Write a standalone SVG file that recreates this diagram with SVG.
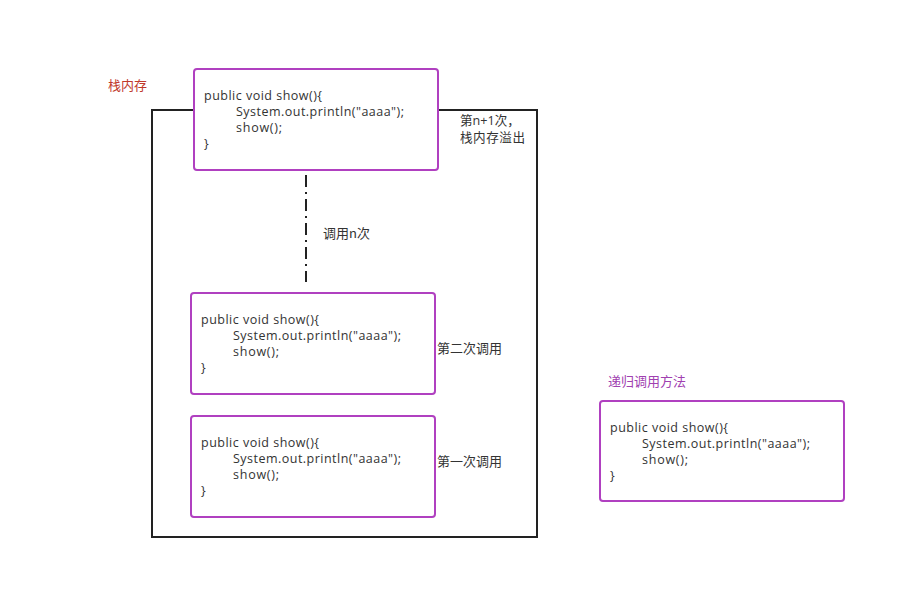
<svg xmlns="http://www.w3.org/2000/svg" width="905" height="598" viewBox="0 0 905 598">
<style>
text{font-family:"Open Sans","Noto Sans","Noto Sans CJK SC",sans-serif;font-size:12.5px;fill:#333}
.cjk{font-family:"Noto Sans CJK SC","Noto Sans",sans-serif;font-size:13px}
.ovf{font-family:"Open Sans","Noto Sans CJK SC",sans-serif;font-size:12.6px}
.box{fill:#fff;stroke:#b040c0;stroke-width:2}
.stack{fill:none;stroke:#222;stroke-width:2}
</style>
<rect width="905" height="598" fill="#fff"/>
<g id="stack">
<rect class="stack" x="152" y="110" width="385" height="427"/>
</g>
<g id="connectors">
<line x1="306" y1="175" x2="306" y2="282" stroke="#222" stroke-width="2" stroke-dasharray="12,5,2,5"/>
</g>
<g id="box-top">
<rect class="box" x="194" y="69" width="244" height="101" rx="3"/>
<text x="204" y="100" textLength="118" lengthAdjust="spacing">public void show(){</text>
<text x="236" y="116" textLength="168" lengthAdjust="spacing">System.out.println("aaaa");</text>
<text x="236" y="132" textLength="46" lengthAdjust="spacing">show();</text>
<text x="204" y="148">}</text>
</g>
<g id="box-second">
<rect class="box" x="191" y="293" width="244" height="101" rx="3"/>
<text x="201" y="324" textLength="118" lengthAdjust="spacing">public void show(){</text>
<text x="233" y="340" textLength="168" lengthAdjust="spacing">System.out.println("aaaa");</text>
<text x="233" y="356" textLength="46" lengthAdjust="spacing">show();</text>
<text x="201" y="372">}</text>
</g>
<g id="box-first">
<rect class="box" x="191" y="416" width="244" height="101" rx="3"/>
<text x="201" y="447" textLength="118" lengthAdjust="spacing">public void show(){</text>
<text x="233" y="463" textLength="168" lengthAdjust="spacing">System.out.println("aaaa");</text>
<text x="233" y="479" textLength="46" lengthAdjust="spacing">show();</text>
<text x="201" y="495">}</text>
</g>
<g id="box-method">
<rect class="box" x="600" y="401" width="244" height="100" rx="3"/>
<text x="610" y="432" textLength="118" lengthAdjust="spacing">public void show(){</text>
<text x="642" y="448" textLength="168" lengthAdjust="spacing">System.out.println("aaaa");</text>
<text x="642" y="464" textLength="46" lengthAdjust="spacing">show();</text>
<text x="610" y="480">}</text>
</g>
<g id="labels">
<text class="cjk" x="108" y="90" style="fill:#c0392b">栈内存</text>
<text class="ovf" x="460" y="124.5">第n+1次，</text>
<text class="ovf" x="460" y="142" textLength="65" lengthAdjust="spacing">栈内存溢出</text>
<text class="cjk" x="323" y="238">调用n次</text>
<text class="cjk" x="437" y="353">第二次调用</text>
<text class="cjk" x="437" y="466">第一次调用</text>
<text class="cjk" x="608" y="386" style="fill:#a040b0">递归调用方法</text>
</g>
</svg>
